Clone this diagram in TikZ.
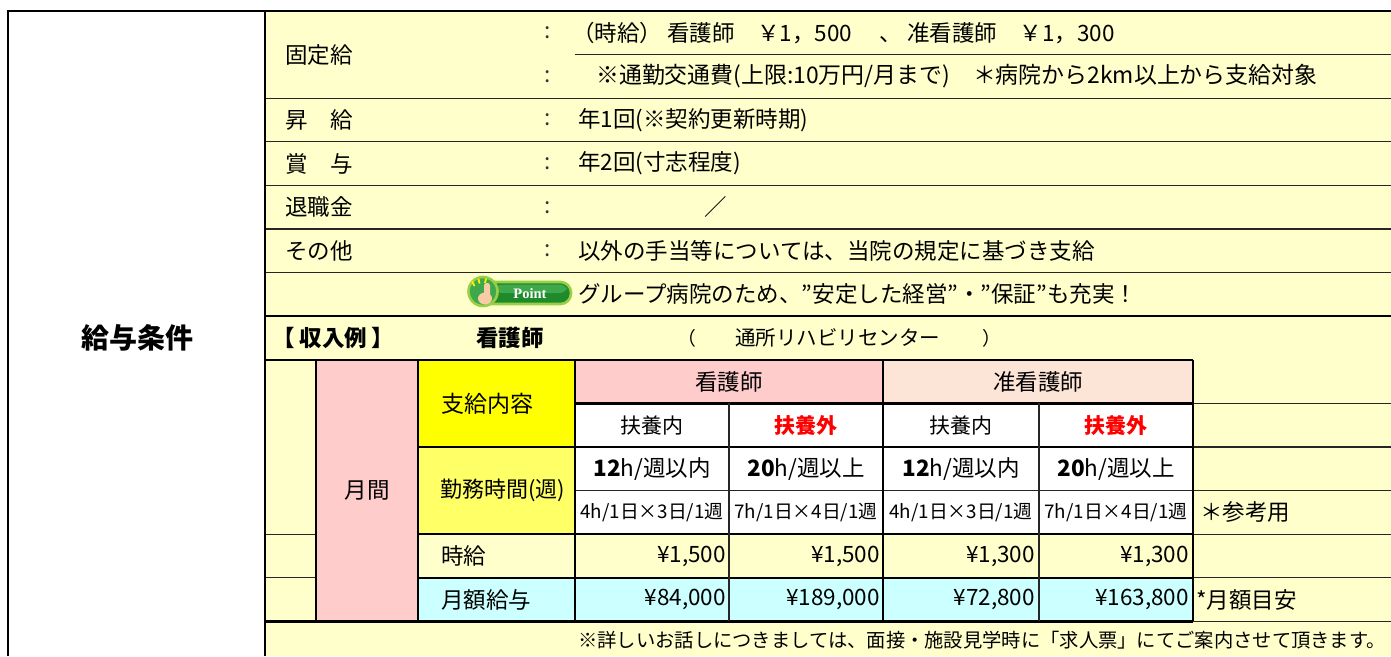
\documentclass[tikz,border=0pt]{standalone}
\usepackage{fontspec}
\setmainfont{Noto Sans CJK JP}
\newfontfamily\pointfont{Liberation Serif}
\newcommand\jfs[1]{\fontsize{#1}{#1}\selectfont}
\definecolor{bgy}{HTML}{FFFFCC}
\definecolor{pinkc}{HTML}{FFCCCC}
\definecolor{yel}{HTML}{FFFF00}
\definecolor{yel2}{HTML}{FFFF66}
\definecolor{peach}{HTML}{FCE4D6}
\definecolor{cyanc}{HTML}{CCFFFF}
\definecolor{ptgreen}{HTML}{1E8A2C}
\definecolor{ptgreen2}{HTML}{3FA84A}
\definecolor{ptrim}{HTML}{9ACF45}
\definecolor{skin}{HTML}{F6CBA6}
\definecolor{ray}{HTML}{FFF200}
\begin{document}
\begin{tikzpicture}[x=1pt,y=-1pt,
  lab/.style={inner sep=0pt,anchor=west,font=\jfs{22.5}},
  ctr/.style={inner sep=0pt,font=\jfs{22.5}},
  rgt/.style={inner sep=0pt,anchor=east,font=\jfs{22.5}},
  small/.style={inner sep=0pt,font=\jfs{18.8}},
  ln/.style={line width=1.1pt,draw=black!85},
  bln/.style={line width=2.2pt,draw=black}]
\useasboundingbox (0,0) rectangle (1391,656);
% backgrounds
\fill[white] (0,0) rectangle (1391,656);
\fill[bgy] (265,11) rectangle (1391,656);
\fill[pinkc] (316,359.8) rectangle (418,621.4);
\fill[yel] (418,359.8) rectangle (575,447);
\fill[yel2] (418,447) rectangle (575,534.2);
\fill[pinkc] (575,359.8) rectangle (883,403.4);
\fill[peach] (883,359.8) rectangle (1193,403.4);
\fill[white] (575,403.4) rectangle (1193,534.2);
\fill[cyanc] (418,577.8) rectangle (1193,621.4);
% upper rows
\draw[ln] (575,54.6) -- (1391,54.6);
\foreach \y in {98.2,141.8,185.4,229,272.6} \draw[ln] (265,\y) -- (1391,\y);
\draw[bln] (265,316.2) -- (1391,316.2);
\draw[bln] (265,359.8) -- (1193,359.8);
% left small column
\draw[ln] (265,534.2) -- (316,534.2);
\draw[ln] (265,577.8) -- (316,577.8);
% table horizontals
\draw[bln] (575,403.4) -- (1193,403.4);
\draw[bln] (418,447) -- (1193,447);
\draw[ln] (575,490.6) -- (1193,490.6);
\draw[bln] (418,534.2) -- (1193,534.2);
\draw[bln] (418,577.8) -- (1193,577.8);
\draw[bln] (265,621.4) -- (1193,621.4);
\foreach \y in {403.4,447,490.6,534.2,577.8,621.4} \draw[ln] (1193,\y) -- (1391,\y);
% table verticals
\foreach \x in {316,418,575,883,1193} \draw[bln] (\x,359.8) -- (\x,621.4);
\foreach \x in {729,1039} \draw[ln] (\x,403.4) -- (\x,621.4);
% outer frame
\draw[line width=2.6pt] (8,656) -- (8,11) -- (1391,11);
\draw[line width=2.2pt] (265,11) -- (265,656);

% left title
\node[inner sep=0pt,font=\bfseries\jfs{28}] (title) at (137,338) {給与条件};

% upper labels
\node[lab] (kotei) at (285,54.6) {固定給};
\node[lab] (shokyu) at (285,120) {昇　給};
\node[lab] (shoyo) at (285,163.6) {賞　与};
\node[lab] (taishoku) at (285,207.2) {退職金};
\node[lab] (sonota) at (285,250.8) {その他};
\foreach \y/\n in {32.8/c1,76.4/c2,120/c3,163.6/c4,207.2/c5,250.8/c6}
  \node[ctr,text=black!80] (\n) at (548,\y) {:};
\node[lab] (v1) at (572,32.8) {（時給） 看護師　￥1，500　 、 准看護師　￥1，300};
\node[lab,font=\jfs{22.9}] (v2) at (596,76.4) {※通勤交通費(上限:10万円/月まで)　＊病院から2km以上から支給対象};
\node[lab] (v3) at (578,120) {年1回(※契約更新時期)};
\node[lab] (v4) at (578,163.6) {年2回(寸志程度)};
\node[ctr] (v5) at (716,207.2) {／};
\node[lab] (v6) at (578,250.8) {以外の手当等については、当院の規定に基づき支給};

% point icon
\filldraw[draw=ptrim,line width=2.6pt,fill=ptgreen,rounded corners=10.5pt] (474,282) rectangle (571,304);
\fill[ptgreen2,rounded corners=7pt] (495,284.5) rectangle (567,293);
\filldraw[draw=ptrim,line width=2.6pt,fill=ptgreen2] (483,291.5) circle (14.5);
\fill[skin] (485,298.5) ellipse (7 and 6);
\fill[skin,rounded corners=1.8pt] (484,283) rectangle (490,297);
\draw[ray,line width=1.8pt] (474.5,286) -- (472,281.5);
\draw[ray,line width=1.8pt] (479.5,283.5) -- (478.5,279);
\draw[ray,line width=1.8pt] (485,283) -- (486,278.5);
\node[inner sep=0pt,text=white,font=\pointfont\bfseries\jfs{14.5}] (pt) at (530,294) {Point};
\node[lab] (ptxt) at (578,294.4) {グループ病院のため、"安定した経営"・"保証"も充実！};

% income example row
\node[lab,font=\bfseries\jfs{22.5}] (shu) at (283,338) {{\addfontfeature{RawFeature=+palt}【 収入例 】}};
\node[lab,font=\bfseries\jfs{22.5}] (kang) at (476,338) {看護師};
\node[small,anchor=west] (pl) at (677,338) {（};
\node[lab,font=\jfs{20.5}] (center) at (735,338) {通所リハビリセンター};
\node[small,anchor=west] (pr) at (982,338) {）};

% table texts
\node[ctr] (gekkan) at (367,490.6) {月間};
\node[lab,font=\jfs{23}] (shikyu) at (441,403.4) {支給内容};
\node[lab,font=\jfs{22}] (kinmu) at (440,490.6) {勤務時間(週)};
\node[lab] (jikyu) at (441,556) {時給};
\node[lab] (getsugaku) at (441,599.6) {月額給与};
\node[ctr] (hkn) at (729,381.6) {看護師};
\node[ctr] (jkn) at (1038,381.6) {准看護師};
\node[ctr,font=\jfs{21}] (fn1) at (652,425.2) {扶養内};
\node[ctr,font=\bfseries\jfs{21},text=red] (fg1) at (806,425.2) {扶養外};
\node[ctr,font=\jfs{21}] (fn2) at (961,425.2) {扶養内};
\node[ctr,font=\bfseries\jfs{21},text=red] (fg2) at (1116,425.2) {扶養外};
\node[ctr] (h1) at (652,468.8) {{\bfseries 12}h/週以内};
\node[ctr] (h2) at (806,468.8) {{\bfseries 20}h/週以上};
\node[ctr] (h3) at (961,468.8) {{\bfseries 12}h/週以内};
\node[ctr] (h4) at (1116,468.8) {{\bfseries 20}h/週以上};
\node[small] (d1) at (652,512.4) {4h/1日×3日/1週};
\node[small] (d2) at (806,512.4) {7h/1日×4日/1週};
\node[small] (d3) at (961,512.4) {4h/1日×3日/1週};
\node[small] (d4) at (1116,512.4) {7h/1日×4日/1週};
\node[rgt] (j1) at (726,556) {¥1,500};
\node[rgt] (j2) at (880,556) {¥1,500};
\node[rgt] (j3) at (1035,556) {¥1,300};
\node[rgt] (j4) at (1189,556) {¥1,300};
\node[rgt] (m1) at (726,599.6) {¥84,000};
\node[rgt] (m2) at (880,599.6) {¥189,000};
\node[rgt] (m3) at (1035,599.6) {¥72,800};
\node[rgt] (m4) at (1189,599.6) {¥163,800};
\node[lab] (sanko) at (1200,512.4) {＊参考用};
\node[lab] (meyasu) at (1196,599.6) {*月額目安};
\node[lab,font=\jfs{19.3}] (note) at (578,640) {※詳しいお話しにつきましては、面接・施設見学時に「求人票」にてご案内させて頂きます。};
\end{tikzpicture}
\end{document}
